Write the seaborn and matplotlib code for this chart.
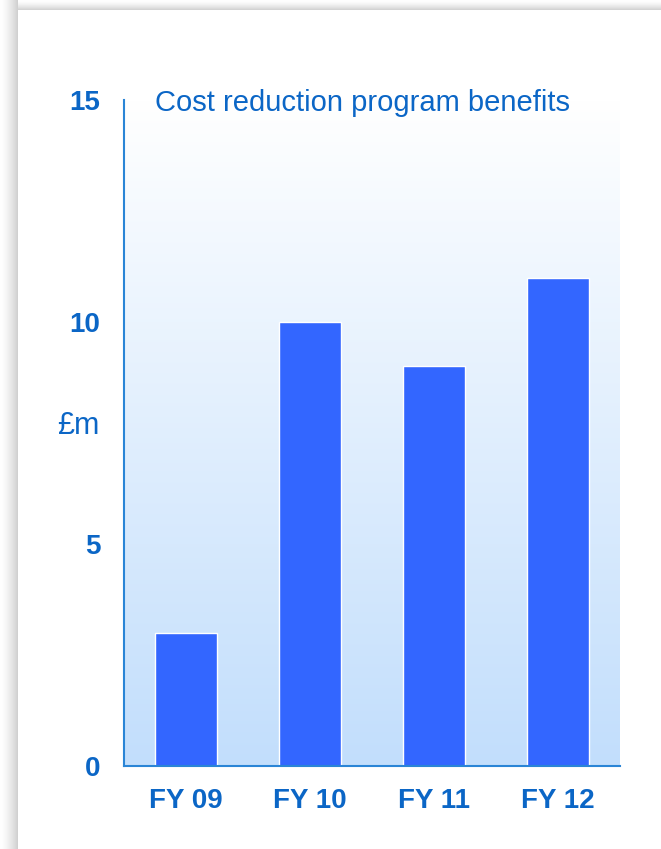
import numpy as np
import pandas as pd
import matplotlib
matplotlib.use("Agg")
import matplotlib.pyplot as plt
import seaborn as sns

categories = ["FY 09", "FY 10", "FY 11", "FY 12"]
values = [3, 10, 9, 11]
y_ticks = [0, 5, 10, 15]
title = "Cost reduction program benefits"
y_unit = "£m"

sns.set_theme(style="white")
plt.rcParams["font.family"] = ["Liberation Sans", "DejaVu Sans"]

W, H = 661, 849
fig = plt.figure(figsize=(W / 100, H / 100), dpi=100)

# background with drop shadow on top and left
bg = np.ones((H, W, 3))
sx, sy = 18, 10
for i in range(sx):
    v = 1.0 - 0.2 * (i / sx) ** 1.5
    bg[:, i, :] = v
for j in range(sy):
    v = 1.0 - 0.2 * (j / sy) ** 1.5
    bg[j, sx:, :] = np.minimum(bg[j, sx:, :], v)
ax_bg = fig.add_axes([0, 0, 1, 1], zorder=-10)
ax_bg.imshow(bg, aspect="auto", extent=[0, 1, 0, 1])
ax_bg.axis("off")

ax = fig.add_axes([124 / W, 1 - 766 / H, 496 / W, 666 / H])
ax.patch.set_alpha(0)

# gradient background in axes
n = 256
top = np.array([1.0, 1.0, 1.0])
bot = np.array([194, 222, 252]) / 255
t = np.linspace(0, 1, n)[:, None]
grad = (top * (1 - t) + bot * t)[:, None, :]
ax.imshow(grad, aspect="auto", extent=[-0.5, 3.5, 0, 15], zorder=0)

df = pd.DataFrame({"cat": categories, "val": values})
sns.barplot(data=df, x="cat", y="val", color="#3366FF", saturation=1,
            width=0.5, edgecolor="white", linewidth=1.0, ax=ax, zorder=2)

ax.set_xlim(-0.5, 3.5)
ax.set_ylim(0, 15)
ax.set_yticks(y_ticks)
ax.set_yticklabels([str(v) for v in y_ticks])
ax.set_xlabel("")
ax.set_ylabel("")

txt_col = "#0B66C6"
spine_col = "#2A85D6"
for s in ["top", "right"]:
    ax.spines[s].set_visible(False)
for s in ["left", "bottom"]:
    ax.spines[s].set_color(spine_col)
    ax.spines[s].set_linewidth(1.5)
    ax.spines[s].set_zorder(5)

ax.tick_params(axis="y", length=0, pad=17, labelsize=20, labelcolor=txt_col)
ax.tick_params(axis="x", length=0, pad=16, labelsize=20, labelcolor=txt_col)
for lab in ax.get_xticklabels() + ax.get_yticklabels():
    lab.set_fontweight("bold")

fig.text(155 / W, 1 - 103 / H, title, fontsize=21, color=txt_col,
         ha="left", va="center")
fig.text(78 / W, 1 - 426 / H, y_unit, fontsize=22, color=txt_col,
         ha="center", va="center")

fig.savefig("out.png", dpi=100)
